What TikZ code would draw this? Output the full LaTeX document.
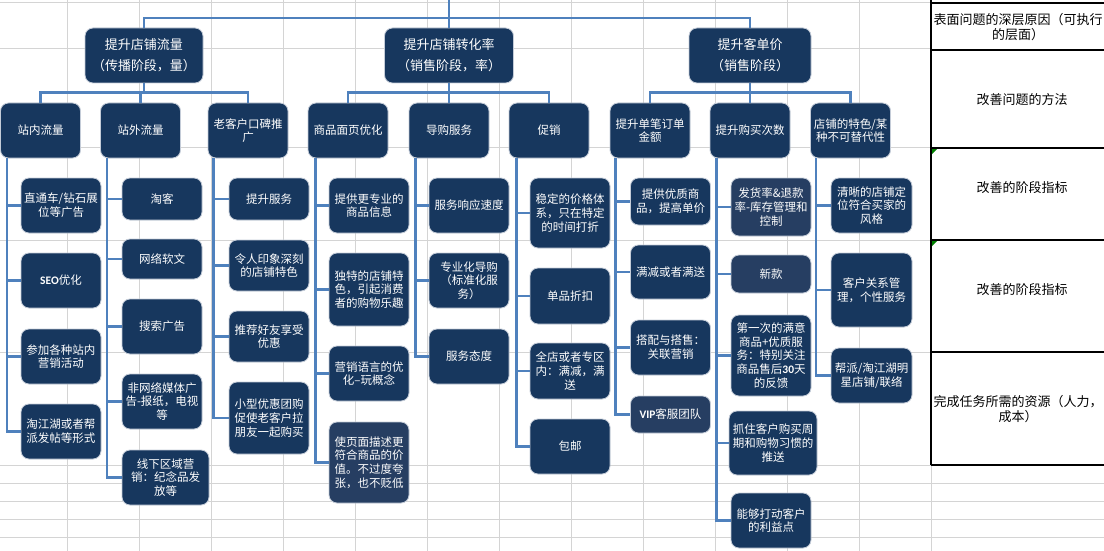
\documentclass[tikz,border=0pt]{standalone}
\usepackage{fontspec}
\setmainfont{Noto Sans CJK SC}
\newfontfamily\latb{Carlito}
\usetikzlibrary{positioning}

\definecolor{navy}{RGB}{23,55,94}
\definecolor{navylt}{RGB}{38,62,98}
\definecolor{linkblue}{RGB}{79,129,189}
\definecolor{gridgray}{RGB}{212,212,212}
\definecolor{boxedge}{RGB}{196,204,216}
\definecolor{notegreen}{RGB}{0,128,0}

\newcommand{\lb}[1]{{\latb\bfseries #1}}

\tikzset{
  tbox/.style={draw=boxedge, line width=0.8pt, fill=navy, rounded corners=8pt,
    text=white, align=center, inner sep=2pt},
  topbox/.style={tbox, minimum height=55pt, font=\fontsize{13}{21}\selectfont},
  midbox/.style={tbox, minimum width=80pt, minimum height=55pt,
    font=\fontsize{11.5}{13.7}\selectfont},
  leaf/.style={tbox, minimum width=80pt, font=\fontsize{11.5}{13.7}\selectfont},
  leaflt/.style={leaf, fill=navylt},
  link/.style={draw=linkblue, line width=2.3pt},
  tabtext/.style={align=center, font=\fontsize{13}{15}\selectfont}
}

\begin{document}
\begin{tikzpicture}[x=1pt, y=-1pt]
    \useasboundingbox (0,0) rectangle (1104,551);
    \fill[white] (0,0) rectangle (1104,551);

    % sheet grid
    \draw[gridgray, line width=1pt]
      (67,0) -- (67,551) (139,0) -- (139,551) (211,0) -- (211,551)
      (283,0) -- (283,551) (355,0) -- (355,551) (427,0) -- (427,551)
      (499,0) -- (499,551) (571,0) -- (571,551) (643,0) -- (643,551)
      (715,0) -- (715,551) (787,0) -- (787,551) (859,0) -- (859,551)
      (931,465) -- (931,551)
      (0,3) -- (931,3) (0,49) -- (931,49) (0,147) -- (931,147)
      (0,240) -- (931,240) (0,352) -- (931,352) (0,465) -- (931,465)
      (0,483) -- (1104,483) (0,501) -- (1104,501)
      (0,519) -- (1104,519) (0,537) -- (1104,537);

    % table on the right
    \draw[black, line width=1.2pt]
      (931,0) -- (931,465)
      (931,3) -- (1104,3) (931,50) -- (1104,50) (931,148) -- (1104,148)
      (931,240) -- (1104,240) (931,352) -- (1104,352) (931,465) -- (1104,465);
    \fill[notegreen] (932,149) -- ++(5,0) -- ++(-5,5) -- cycle;
    \fill[notegreen] (932,241) -- ++(5,0) -- ++(-5,5) -- cycle;
    \node[tabtext] (r1) at (1018,27) {表面问题的深层原因（可执行\\的层面）};
    \node[tabtext] (r2) at (1022,100) {改善问题的方法};
    \node[tabtext] (r3) at (1022,188) {改善的阶段指标};
    \node[tabtext] (r4) at (1022,290) {改善的阶段指标};
    \node[tabtext] (r5) at (1018,409) {完成任务所需的资源（人力，\\成本）};

    % first level
    \node[topbox, minimum width=118pt] (L1a) at (144,55.5) {提升店铺流量\\（传播阶段，量）};
    \node[topbox, minimum width=129pt] (L1b) at (449,55.5) {提升店铺转化率\\（销售阶段，率）};
    \node[topbox, minimum width=122pt] (L1c) at (750,55.5) {提升客单价\\（销售阶段）};

    % second level
    \node[midbox] (L2a) at (40.5,130.5) {站内流量};
    \node[midbox] (L2b) at (140.5,130.5) {站外流量};
    \node[midbox] (L2c) at (248,130.5) {老客户口碑推\\广};
    \node[midbox] (L2d) at (348,130.5) {商品面页优化};
    \node[midbox] (L2e) at (449,130.5) {导购服务};
    \node[midbox] (L2f) at (549,130.5) {促销};
    \node[midbox] (L2g) at (650,130.5) {提升单笔订单\\金额};
    \node[midbox] (L2h) at (750,130.5) {提升购买次数};
    \node[midbox] (L2i) at (850.5,130.5) {店铺的特色/某\\种不可替代性};

    % leaves
    \node[leaf, minimum height=55pt] (a1) at (61,205.5) {直通车/钻石展\\位等广告};
    \node[leaf, minimum height=55pt] (a2) at (61,280.5) {\lb{SEO}优化};
    \node[leaf, minimum height=55pt] (a3) at (61,356.5) {参加各种站内\\营销活动};
    \node[leaf, minimum height=55pt] (a4) at (61,431.5) {淘江湖或者帮\\派发帖等形式};

    \node[leaf, minimum height=42pt] (b1) at (162,199) {淘客};
    \node[leaf, minimum height=40pt] (b2) at (162,259) {网络软文};
    \node[leaf, minimum height=55pt] (b3) at (162,326.5) {搜索广告};
    \node[leaf, minimum height=55pt] (b4) at (162,401.5) {非网络媒体广\\告-报纸，电视\\等};
    \node[leaf, minimum width=87pt, minimum height=55pt] (b5) at (165.5,477.5) {线下区域营\\销：纪念品发\\放等};

    \node[leaf, minimum height=42pt] (c1) at (269,199) {提升服务};
    \node[leaf, minimum height=51pt] (c2) at (269,265.5) {令人印象深刻\\的店铺特色};
    \node[leaf, minimum height=51pt] (c3) at (269,336.5) {推荐好友享受\\优惠};
    \node[leaf, minimum height=72pt] (c4) at (269,418) {小型优惠团购\\促使老客户拉\\朋友一起购买};

    \node[leaf, minimum height=55pt] (d1) at (369,205.5) {提供更专业的\\商品信息};
    \node[leaf, minimum height=73pt] (d2) at (369,289.5) {独特的店铺特\\色，引起消费\\者的购物乐趣};
    \node[leaf, minimum height=55pt] (d3) at (369,373.5) {营销语言的优\\化--玩概念};
    \node[leaflt, minimum height=81pt] (d4) at (369,462.5) {使页面描述更\\符合商品的价\\值。不过度夸\\张，也不贬低};

    \node[leaf, minimum height=55pt] (e1) at (469,205.5) {服务响应速度};
    \node[leaf, minimum height=55pt] (e2) at (469,280.5) {专业化导购\\（标准化服\\务）};
    \node[leaf, minimum height=55pt] (e3) at (469,356.5) {服务态度};

    \node[leaf, minimum height=70pt] (f1) at (570,213) {稳定的价格体\\系，只在特定\\的时间打折};
    \node[leaf, minimum height=56pt] (f2) at (570,296) {单品折扣};
    \node[leaf, minimum height=56pt] (f3) at (570,371) {全店或者专区\\内：满减，满\\送};
    \node[leaf, minimum height=55pt] (f4) at (570,446.5) {包邮};

    \node[leaf, minimum height=47pt] (g1) at (670.5,201.5) {提供优质商\\品，提高单价};
    \node[leaf, minimum height=54pt] (g2) at (670.5,272) {满减或者满送};
    \node[leaf, minimum height=55pt] (g3) at (670.5,347.5) {搭配与搭售：\\关联营销};
    \node[leaflt, minimum height=37pt] (g4) at (670.5,414.5) {\lb{VIP}客服团队};

    \node[leaflt, minimum height=58pt] (h1) at (771,207) {发货率\&退款\\率-库存管理和\\控制};
    \node[leaflt, minimum height=38pt] (h2) at (771,274) {新款};
    \node[leaf, minimum height=81pt] (h3) at (771,355.5) {第一次的满意\\商品+优质服\\务：特别关注\\商品售后\lb{30}天\\的反馈};
    \node[leaf, minimum width=88pt, minimum height=64pt] (h4) at (773,443) {抓住客户购买周\\期和购物习惯的\\推送};
    \node[leaf, minimum height=55pt] (h5) at (771,520.5) {能够打动客户\\的利益点};

    \node[leaf, minimum width=81pt, minimum height=55pt] (i1) at (871.5,205.5) {清晰的店铺定\\位符合买家的\\风格};
    \node[leaf, minimum width=81pt, minimum height=74pt] (i2) at (871.5,290) {客户关系管\\理，个性服务};
    \node[leaf, minimum width=81pt, minimum height=55pt] (i3) at (871.5,375.5) {帮派/淘江湖明\\星店铺/联络};

    % connectors, top
    \coordinate (entry) at (449,0);
    \coordinate (hub) at (449,18);
    \draw[link] (entry) -- (hub);
    \draw[link] (hub) -| (L1a.north);
    \draw[link] (hub) -- (L1b.north);
    \draw[link] (hub) -| (L1c.north);

    % connectors, first to second level
    \draw[link] (L1a.south) -- ++(0,9) coordinate (ja) -| (L2a.north) (ja) -| (L2b.north) (ja) -| (L2c.north);
    \draw[link] (L1b.south) -- ++(0,9) coordinate (jb) -| (L2d.north) (jb) -| (L2e.north) (jb) -| (L2f.north);
    \draw[link] (L1c.south) -- ++(0,9) coordinate (jc) -| (L2g.north) (jc) -| (L2h.north) (jc) -| (L2i.north);

    % connectors, second level to leaves
    \coordinate (ta) at ([xshift=7pt]L2a.south west);
    \coordinate (tb) at ([xshift=7pt]L2b.south west);
    \coordinate (tc) at ([xshift=6pt]L2c.south west);
    \coordinate (td) at ([xshift=8pt]L2d.south west);
    \coordinate (te) at ([xshift=7pt]L2e.south west);
    \coordinate (tf) at ([xshift=8pt]L2f.south west);
    \coordinate (tg) at ([xshift=6pt]L2g.south west);
    \coordinate (th) at ([xshift=7pt]L2h.south west);
    \coordinate (ti) at ([xshift=6pt]L2i.south west);
    \draw[link] (ta) |- (a1.west) (ta) |- (a2.west) (ta) |- (a3.west) (ta) |- (a4.west);
    \draw[link] (tb) |- (b1.west) (tb) |- (b2.west) (tb) |- (b3.west) (tb) |- (b4.west) (tb) |- (b5.west);
    \draw[link] (tc) |- (c1.west) (tc) |- (c2.west) (tc) |- (c3.west) (tc) |- (c4.west);
    \draw[link] (td) |- (d1.west) (td) |- (d2.west) (td) |- (d3.west) (td) |- (d4.west);
    \draw[link] (te) |- (e1.west) (te) |- (e2.west) (te) |- (e3.west);
    \draw[link] (tf) |- (f1.west) (tf) |- (f2.west) (tf) |- (f3.west) (tf) |- (f4.west);
    \draw[link] (tg) |- (g1.west) (tg) |- (g2.west) (tg) |- (g3.west) (tg) |- (g4.west);
    \draw[link] (th) |- (h1.west) (th) |- (h2.west) (th) |- (h3.west) (th) |- (h4.west) (th) |- (h5.west);
    \draw[link] (ti) |- (i1.west) (ti) |- (i2.west) (ti) |- (i3.west);
\end{tikzpicture}
\end{document}
